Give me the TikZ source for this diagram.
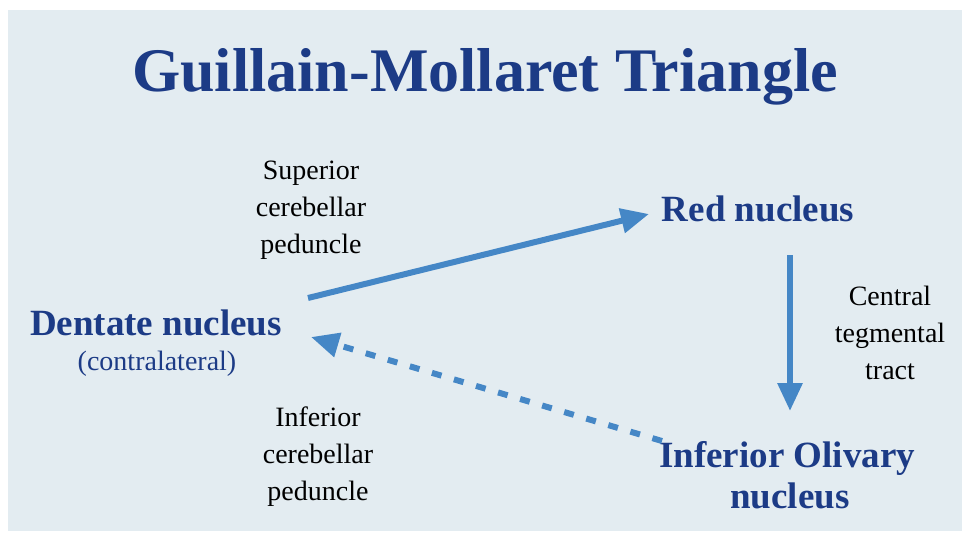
\documentclass[tikz,border=0pt]{standalone}
\usepackage{fontspec}
\setmainfont{Liberation Serif}
\usetikzlibrary{arrows.meta}
\definecolor{bgc}{HTML}{E3ECF1}
\definecolor{navy}{HTML}{1C3B86}
\definecolor{arrowc}{HTML}{4587C6}
\tikzset{
  title/.style={font=\bfseries\fontsize{62}{62}\selectfont, text=navy, inner sep=0pt},
  nucleus/.style={font=\bfseries\fontsize{37}{42}\selectfont, text=navy, inner sep=0pt, align=center},
  sub/.style={font=\fontsize{28}{30}\selectfont, text=navy, inner sep=0pt},
  tract/.style={font=\fontsize{28}{37}\selectfont, text=black, inner sep=0pt, align=center},
  conn/.style={draw=arrowc, line width=6pt, -{Triangle[length=28pt,width=24pt]}},
}
\begin{document}
\begin{tikzpicture}[x=1pt,y=-1pt]
\useasboundingbox (0,0) rectangle (966,541);
\fill[bgc] (8,10) rectangle (962,531);
\node[title, anchor=base] (t) at (485,91) {Guillain-Mollaret Triangle};
\node[nucleus, anchor=base] (red) at (758,221) {Red nucleus};
\node[nucleus, anchor=base] (dent) at (156,335) {Dentate nucleus};
\node[sub, anchor=base] (contra) at (157,370) {(contralateral)};
\node[nucleus, anchor=base west, align=center] (olive) at (659,467) {Inferior Olivary};
\node[nucleus, anchor=base] (olive2) at (790,508) {nucleus};
\node[tract] (scp) at (311,210) {Superior\\cerebellar\\peduncle};
\node[tract] (icp) at (318,457) {Inferior\\cerebellar\\peduncle};
\node[tract] (ctt) at (890,333) {Central\\tegmental\\tract};
\coordinate (a1s) at (308,298);
\coordinate (a1e) at (649,214);
\coordinate (a2s) at (662,441);
\coordinate (a2e) at (311,337);
\coordinate (a3s) at (790,255);
\coordinate (a3e) at (790,411);
\draw[conn] (a1s) -- (a1e);
\draw[conn, dash pattern=on 10pt off 13pt] (a2s) -- (a2e);
\draw[conn] (a3s) -- (a3e);
\end{tikzpicture}
\end{document}
